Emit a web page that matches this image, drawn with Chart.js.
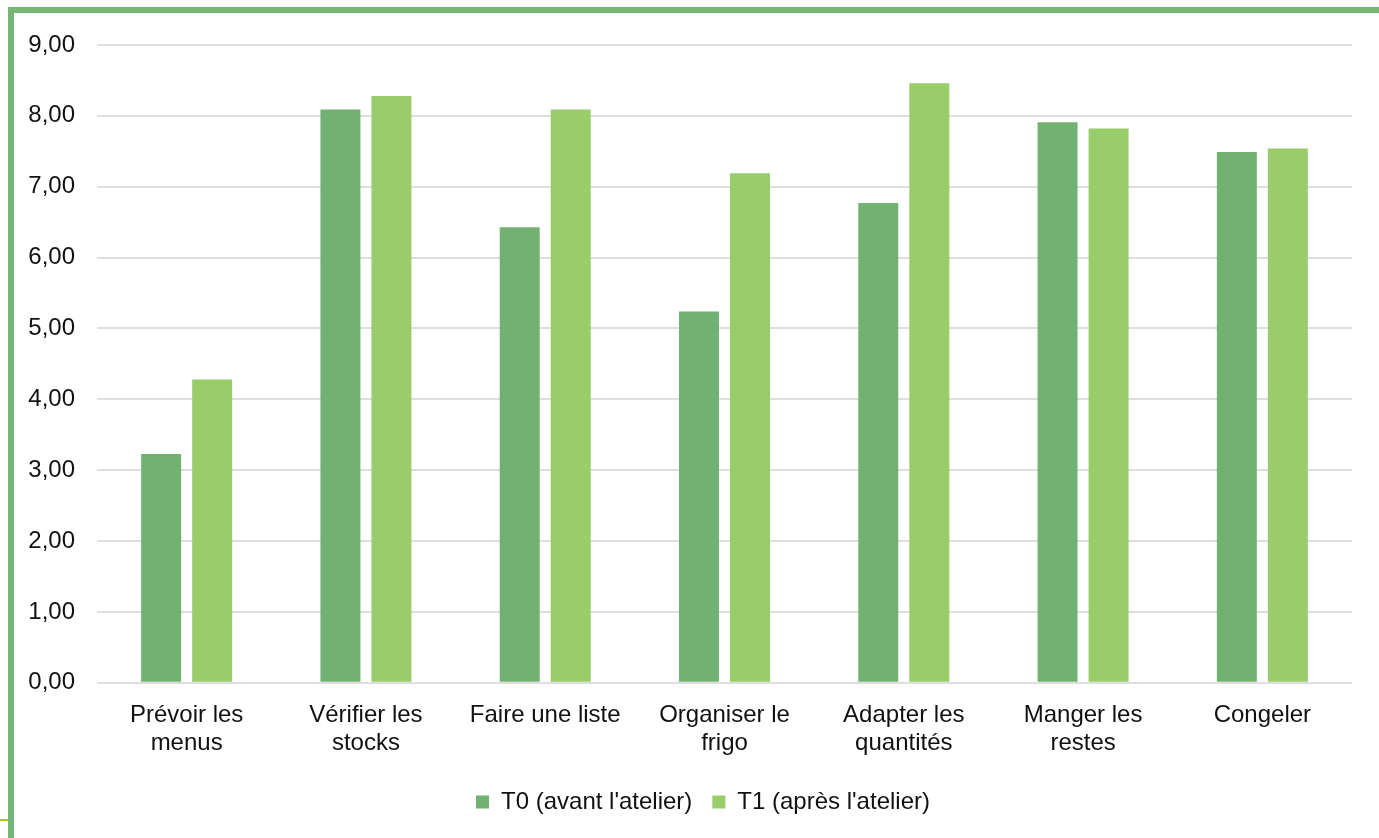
<!DOCTYPE html>
<html>
<head>
<meta charset="utf-8">
<script src="https://cdn.jsdelivr.net/npm/chart.js@4.4.0/dist/chart.umd.min.js"></script>
<style>
  html, body { margin: 0; padding: 0; background: #fff; }
  body { width: 1379px; height: 838px; position: relative; overflow: hidden; }
  #frame { position: absolute; left: 8px; top: 7px; right: 0; bottom: 0;
           border-left: 6px solid #76b676; border-top: 6px solid #76b676; }
  #tick { position: absolute; left: 0; top: 819px; width: 8px; height: 2px; background: #a6c425; }
  #wrap { position: absolute; left: 0; top: 0; width: 1379px; height: 838px; }
</style>
</head>
<body>
<div id="frame"></div>
<div id="tick"></div>
<div id="wrap"><canvas id="c" width="1379" height="838"></canvas></div>
<script>
const categories = [
  ["Prévoir les", "menus"],
  ["Vérifier les", "stocks"],
  ["Faire une liste"],
  ["Organiser le", "frigo"],
  ["Adapter les", "quantités"],
  ["Manger les", "restes"],
  ["Congeler"]
];
const seriesNames = ["T0 (avant l'atelier)", "T1 (après l'atelier)"];
const t0Values = [3.23, 8.09, 6.43, 5.24, 6.77, 7.91, 7.49];
const t1Values = [4.28, 8.28, 8.09, 7.19, 8.46, 7.82, 7.54];
const yTickLabels = ["0,00","1,00","2,00","3,00","4,00","5,00","6,00","7,00","8,00","9,00"];

const FONT = "'Liberation Sans', Arial, sans-serif";

// shift the legend block so it is centred like the original
const legendShift = {
  id: 'legendShift',
  afterLayout(chart) {
    const lg = chart.legend;
    if (lg) { lg.left += 27; lg.right += 27; }
  }
};

new Chart(document.getElementById('c'), {
  type: 'bar',
  data: {
    labels: categories,
    datasets: [
      { label: seriesNames[0], data: t0Values, backgroundColor: '#71b273',
        categoryPercentage: 0.569, barPercentage: 0.784 },
      { label: seriesNames[1], data: t1Values, backgroundColor: '#99cd69',
        categoryPercentage: 0.569, barPercentage: 0.784 }
    ]
  },
  plugins: [legendShift],
  options: {
    responsive: false,
    animation: false,
    devicePixelRatio: 1,
    layout: { padding: { left: 0, right: 27, top: 45, bottom: 14 } },
    plugins: {
      tooltip: { enabled: false },
      legend: {
        position: 'bottom',
        labels: {
          boxWidth: 13, boxHeight: 13, padding: 20,
          color: '#111',
          font: { family: FONT, size: 24 }
        }
      }
    },
    scales: {
      y: {
        min: 0, max: 9,
        afterFit: (s) => { s.width = 97; },
        ticks: {
          stepSize: 1, padding: 22, color: '#111',
          font: { family: FONT, size: 24 },
          callback: (v, i) => yTickLabels[i]
        },
        grid: { color: '#dedede', lineWidth: 2, drawTicks: false },
        border: { display: false }
      },
      x: {
        afterFit: (s) => { s.height -= 6; },
        ticks: {
          color: '#111', padding: 19, maxRotation: 0, autoSkip: false,
          font: { family: FONT, size: 24, lineHeight: 1.15 }
        },
        grid: { display: false, drawTicks: false },
        border: { display: false }
      }
    }
  }
});
</script>
</body>
</html>
